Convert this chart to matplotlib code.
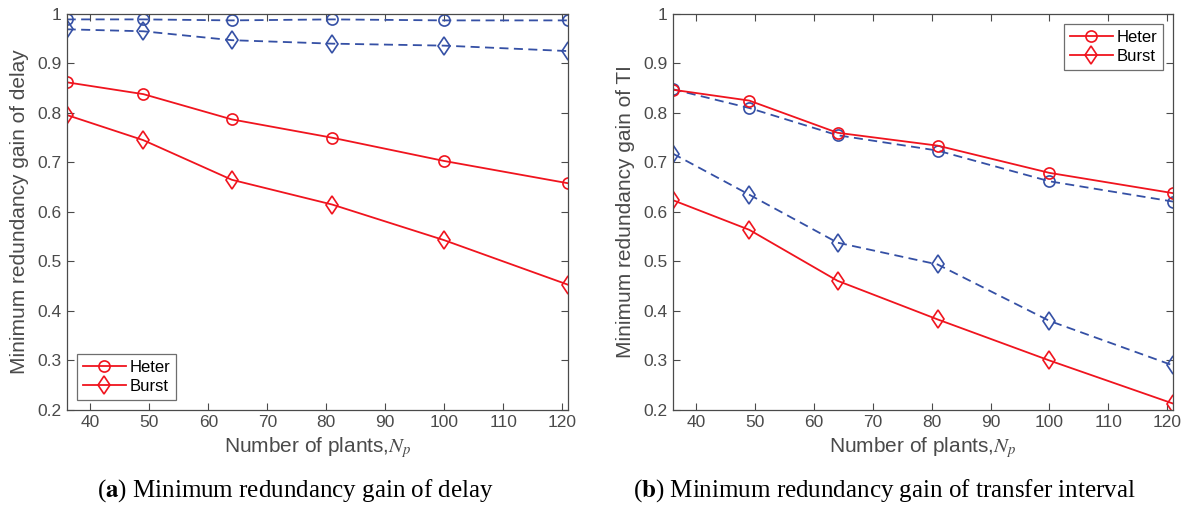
import matplotlib.pyplot as plt
import numpy as np
from matplotlib.ticker import FuncFormatter

plt.rcParams['font.family'] = ['Liberation Sans', 'DejaVu Sans']
plt.rcParams['mathtext.fontset'] = 'stix'

# number of plants
n_plants = [36, 49, 64, 81, 100, 121]

# (a) minimum redundancy gain of delay
delay_heter = [0.862, 0.838, 0.787, 0.750, 0.703, 0.658]
delay_burst = [0.796, 0.745, 0.665, 0.615, 0.543, 0.453]
delay_heter_b = [0.989, 0.989, 0.987, 0.989, 0.987, 0.987]
delay_burst_b = [0.969, 0.965, 0.947, 0.940, 0.936, 0.925]

# (b) minimum redundancy gain of TI
ti_heter = [0.847, 0.825, 0.760, 0.734, 0.679, 0.638]
ti_burst = [0.624, 0.564, 0.461, 0.383, 0.300, 0.213]
ti_heter_b = [0.848, 0.810, 0.755, 0.724, 0.662, 0.621]
ti_burst_b = [0.718, 0.635, 0.538, 0.494, 0.380, 0.290]

red = '#f0141e'
blue = '#3550a5'
grey = '#4a4a4a'
dash = (0, (5, 3))

fig = plt.figure(figsize=(11.85, 5.13), dpi=100)
ax1 = fig.add_axes([0.0563, 0.2008, 0.4231, 0.772])
ax2 = fig.add_axes([0.5677, 0.2008, 0.4222, 0.772])


def draw(ax, heter, burst, heter_b, burst_b, ylabel, loc):
    ax.plot(n_plants, heter_b, ls=dash, color=blue, lw=1.3, marker='o', ms=8, mfc='none', mew=1.2)
    ax.plot(n_plants, burst_b, ls=dash, color=blue, lw=1.3, marker='d', ms=9.5, mfc='none', mew=1.2)
    ax.plot(n_plants, heter, '-', color=red, lw=1.3, marker='o', ms=8, mfc='none', mew=1.2, label='Heter')
    ax.plot(n_plants, burst, '-', color=red, lw=1.3, marker='d', ms=9.5, mfc='none', mew=1.2, label='Burst')
    ax.set_xlim(36, 121)
    ax.set_ylim(0.2, 1)
    ax.set_xticks(np.arange(40, 121, 10))
    ax.set_yticks(np.arange(0.2, 1.01, 0.1))
    ax.yaxis.set_major_formatter(FuncFormatter(lambda v, p: '%g' % round(v, 1)))
    ax.tick_params(direction='in', top=True, right=True, colors=grey, labelsize=12.5,
                   length=5, width=0.8, labelcolor=grey)
    for s in ax.spines.values():
        s.set_color(grey)
        s.set_linewidth(0.9)
    ax.set_xlabel(r'Number of plants,$N_p$', fontsize=15, color=grey, labelpad=4)
    ax.set_ylabel(ylabel, fontsize=15, color=grey, labelpad=6)
    leg = ax.legend(loc=loc, fontsize=12, fancybox=False, edgecolor=grey,
                    handlelength=2.6, borderpad=0.35, labelspacing=0.25,
                    handletextpad=0.2, borderaxespad=0.6)
    leg.get_frame().set_linewidth(0.9)


draw(ax1, delay_heter, delay_burst, delay_heter_b, delay_burst_b,
     'Minimum redundancy gain of delay', 'lower left')
draw(ax2, ti_heter, ti_burst, ti_heter_b, ti_burst_b,
     'Minimum redundancy gain of TI', 'upper right')

fig.text(0.249, 0.043, r'($\mathbf{a}$) Minimum redundancy gain of delay',
         ha='center', va='center', fontsize=18, family='Liberation Serif')
fig.text(0.746, 0.043, r'($\mathbf{b}$) Minimum redundancy gain of transfer interval',
         ha='center', va='center', fontsize=18, family='Liberation Serif')

fig.savefig('out.png', dpi=100)
